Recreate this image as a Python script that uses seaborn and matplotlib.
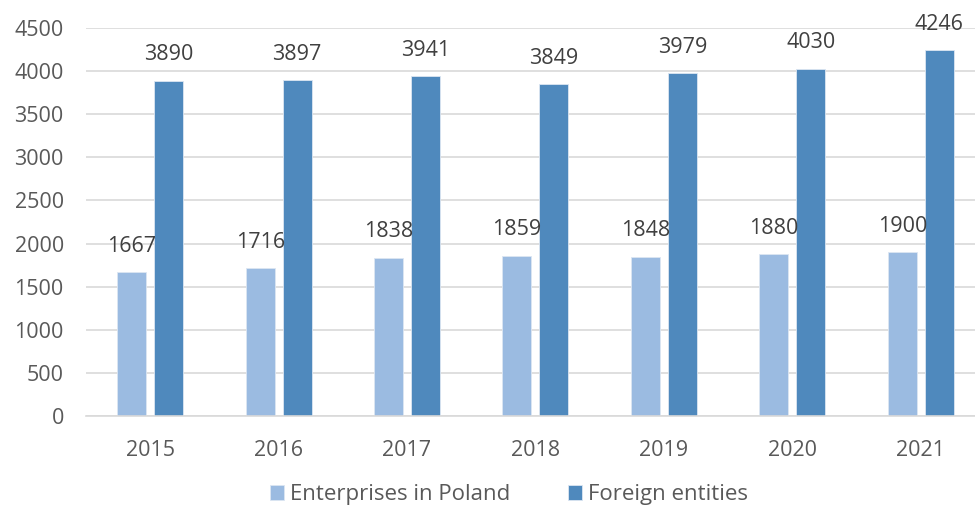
import pandas as pd
import matplotlib.pyplot as plt
import seaborn as sns

# Data
years = ['2015', '2016', '2017', '2018', '2019', '2020', '2021']
poland = [1667, 1716, 1838, 1859, 1848, 1880, 1900]
foreign = [3890, 3897, 3941, 3849, 3979, 4030, 4246]
series_names = ['Enterprises in Poland', 'Foreign entities']
colors = ['#9BBBE1', '#4F89BD']

df = pd.DataFrame({
    'Year': years * 2,
    'Value': poland + foreign,
    'Series': [series_names[0]] * len(years) + [series_names[1]] * len(years),
})

sns.set_style('white')
plt.rcParams['font.family'] = ['Open Sans', 'DejaVu Sans']

fig = plt.figure(figsize=(9.75, 5.11), dpi=100)
ax = fig.add_axes([0.0882, 0.186, 0.922, 0.759])

sns.barplot(data=df, x='Year', y='Value', hue='Series', palette=colors,
            saturation=1, width=0.576, gap=0.215, ax=ax,
            edgecolor='#DCE6F2', linewidth=0.6)

# Value labels
for container in ax.containers:
    ax.bar_label(container, fmt='%d', padding=11, fontsize=15.5, color='#404040')

ax.set_ylim(0, 4500)
ax.set_yticks(range(0, 4501, 500))
ax.set_xlim(-0.5, 6.5)
ax.yaxis.grid(True, color='#D9D9D9', linewidth=1.2)
ax.set_axisbelow(True)
for side in ['top', 'right', 'left']:
    ax.spines[side].set_visible(False)
ax.spines['bottom'].set_color('#D9D9D9')
ax.spines['bottom'].set_linewidth(1.2)
ax.tick_params(axis='both', length=0, labelsize=15.5, labelcolor='#595959')
ax.tick_params(axis='x', pad=17)
ax.tick_params(axis='y', pad=16)
ax.set_xlabel('')
ax.set_ylabel('')

ax.legend(loc='center', bbox_to_anchor=(0.522, 0.032), bbox_transform=fig.transFigure,
          ncol=2, frameon=False, fontsize=16, handlelength=0.65, handleheight=0.65,
          handletextpad=0.25, columnspacing=2.6, labelcolor='#595959')

fig.savefig('out.png', dpi=100)
